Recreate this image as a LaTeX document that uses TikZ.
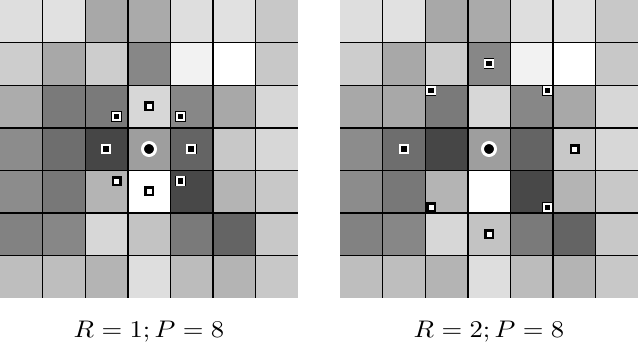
\documentclass[tikz,border=0pt]{standalone}
\begin{document}
\begin{tikzpicture}[x=1pt,y=-1pt,
  gridline/.style={line width=1.4pt, black},
  ptwhite/.style={rectangle, draw=black, fill=white, line width=2.5pt, minimum size=7.5pt, inner sep=0pt},
  ptblack/.style={rectangle, draw=black, fill=black, double=white, double distance=2pt, line width=0.6pt, minimum size=7.5pt, inner sep=0pt},
  centre/.style={circle, draw=white, fill=black, line width=3pt, minimum size=13pt, inner sep=0pt},
  caption/.style={anchor=base, inner sep=0pt, xscale=2.66, yscale=2.4}]
\useasboundingbox (0,0) rectangle (640,346);
\fill[white] (0,0) rectangle (640,346);
% left grid
\foreach \row [count=\r from 0] in {
  {222,225,168,170,222,225,200},
  {205,168,205,135,242,255,200},
  {172,122,122,215,135,168,215},
  {140,110,70,158,100,200,215},
  {140,120,180,255,72,180,200},
  {130,135,215,195,122,100,200},
  {190,190,180,222,188,180,200}} {
  \foreach \v [count=\c from 0] in \row {
    \fill[fill={rgb,255:red,\v;green,\v;blue,\v}] (\c*42.6,\r*42.6) rectangle ++(42.6,42.6);
  }
}
% right grid
\foreach \row [count=\r from 0] in {
  {222,225,168,170,222,225,200},
  {205,168,205,135,242,255,200},
  {168,168,122,215,135,168,215},
  {140,110,70,158,100,200,215},
  {140,120,180,255,72,180,200},
  {130,135,215,195,122,100,200},
  {190,190,180,222,188,180,200}} {
  \foreach \v [count=\c from 0] in \row {
    \fill[fill={rgb,255:red,\v;green,\v;blue,\v}] (340+\c*42.6,\r*42.6) rectangle ++(42.6,42.6);
  }
}
\foreach \i in {1,...,6} {
  \draw[gridline] (\i*42.6,0) -- (\i*42.6,298.2);
  \draw[gridline] (0,\i*42.6) -- (298.2,\i*42.6);
  \draw[gridline] (340+\i*42.6,0) -- (340+\i*42.6,298.2);
  \draw[gridline] (340,\i*42.6) -- (638.2,\i*42.6);
}
% left samples (R=1)
\node[centre] (lc) at (149,149) {};
\node[ptwhite] (l1) at (149,106.4) {};
\node[ptblack] (l2) at (116.7,116.7) {};
\node[ptblack] (l3) at (180.7,116.7) {};
\node[ptblack] (l4) at (106,149) {};
\node[ptblack] (l5) at (191.2,149) {};
\node[ptwhite] (l6) at (116.7,181) {};
\node[ptblack] (l7) at (180.7,181) {};
\node[ptwhite] (l8) at (149,191.3) {};
% right samples (R=2)
\node[centre] (rc) at (489,149) {};
\node[ptblack] (r1) at (489,63.5) {};
\node[ptblack] (r2) at (431,90.5) {};
\node[ptblack] (r3) at (547.3,90.5) {};
\node[ptblack] (r4) at (404,149) {};
\node[ptwhite] (r5) at (574.7,149) {};
\node[ptwhite] (r6) at (431,207.3) {};
\node[ptblack] (r7) at (547.3,207.3) {};
\node[ptwhite] (r8) at (489,234) {};
% captions
\node[caption] (cl) at (149,337.7) {$R=1; P=8$};
\node[caption] (cr) at (489,337.7) {$R=2; P=8$};
\end{tikzpicture}
\end{document}
